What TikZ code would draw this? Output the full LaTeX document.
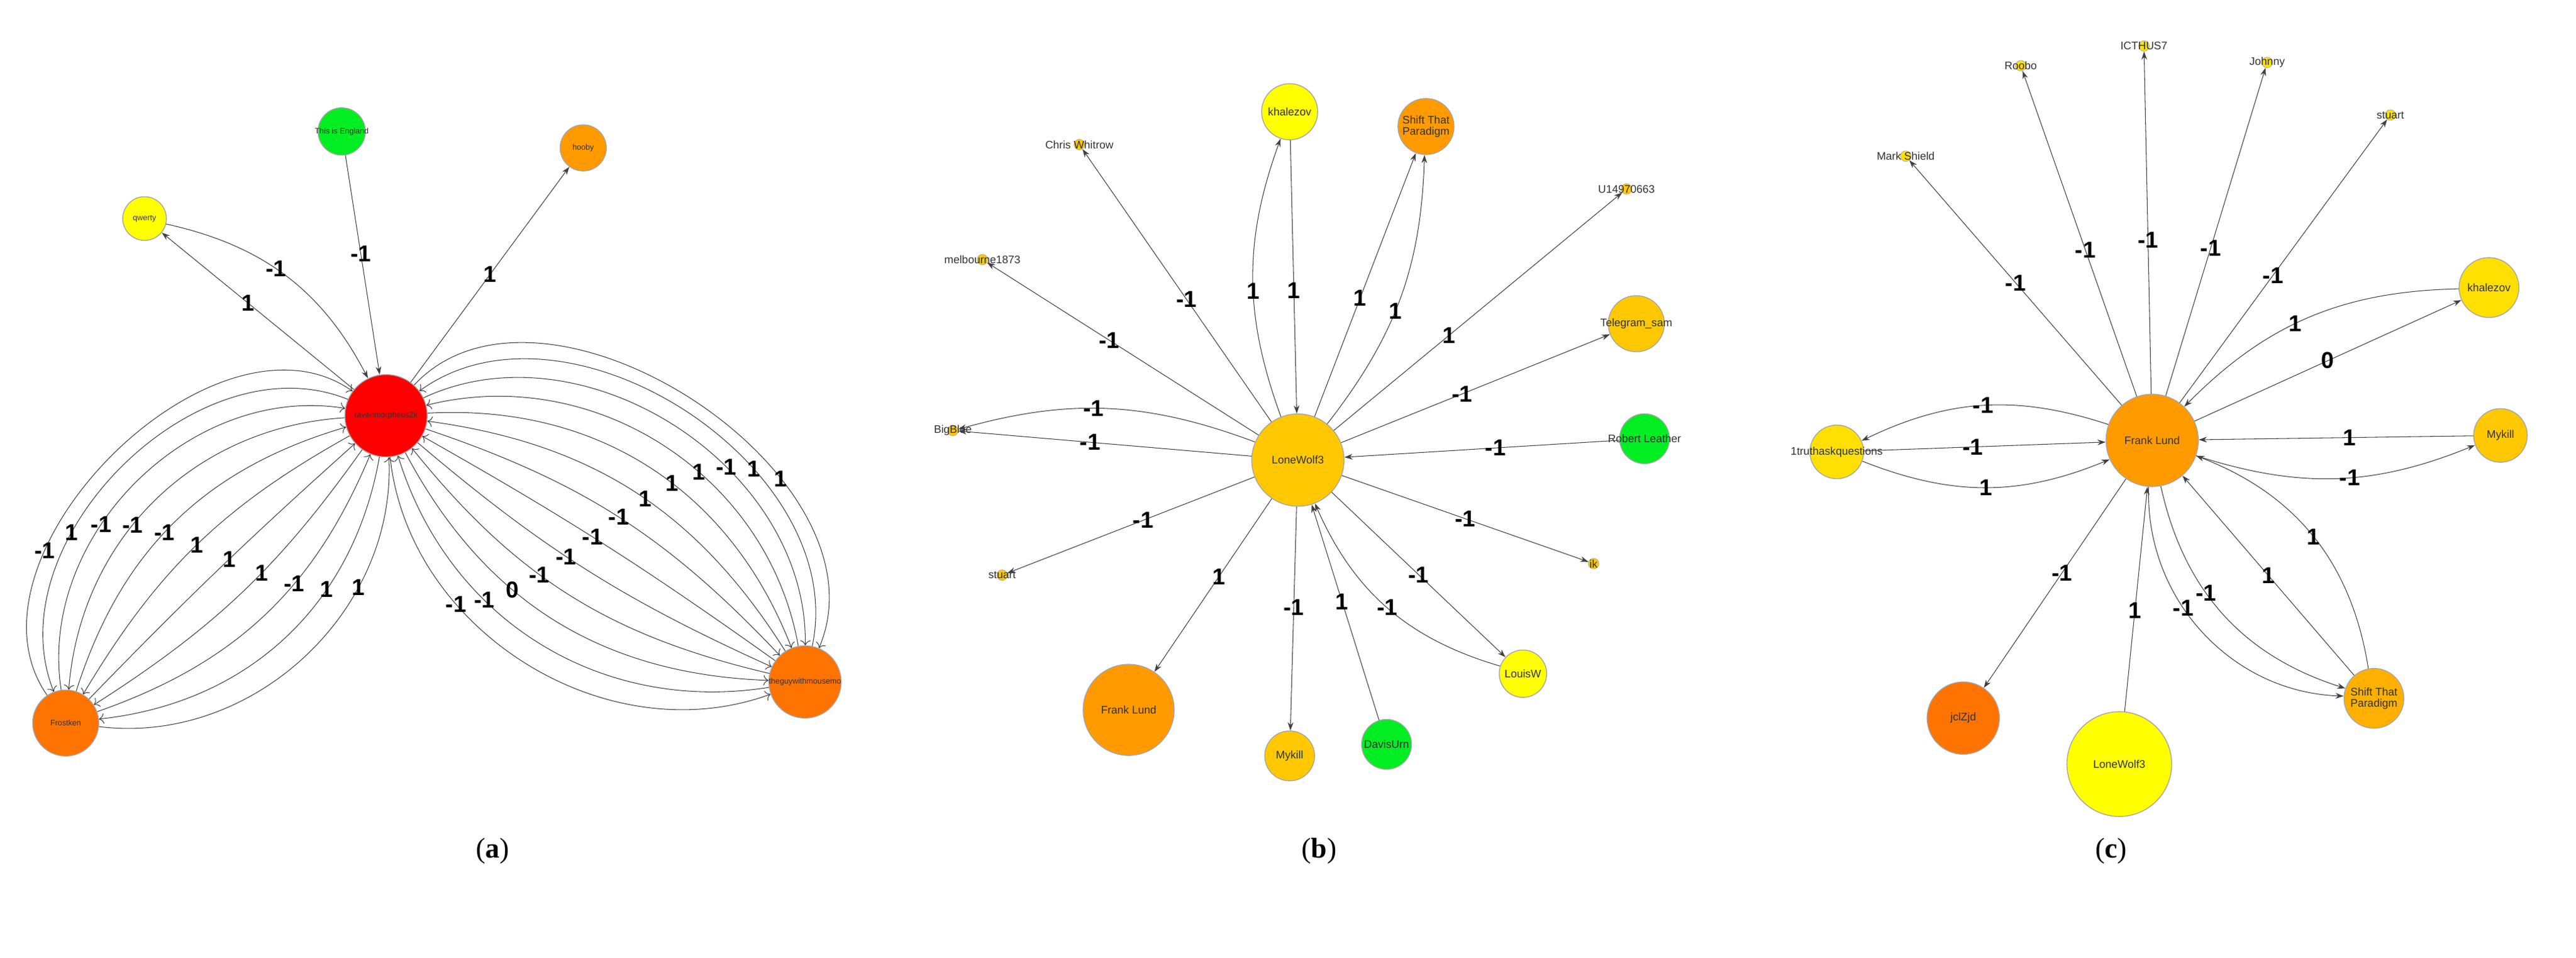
\documentclass[tikz,border=0pt]{standalone}
\usepackage{fontspec}
\setmainfont{Liberation Serif}
\newfontfamily\arialf{Liberation Sans}
\usetikzlibrary{arrows.meta}
\definecolor{cRed}{HTML}{FF0000}
\definecolor{cGreen}{HTML}{00EE22}
\definecolor{cDeep}{HTML}{FF7300}
\definecolor{cOrange}{HTML}{FF9A00}
\definecolor{cAmber}{HTML}{FFB000}
\definecolor{cGold}{HTML}{FFC800}
\definecolor{cSun}{HTML}{FFE000}
\definecolor{cYellow}{HTML}{FFFF00}
\tikzset{
	vx/.style = {shape=circle, draw=black!35, thin, inner sep=0pt},
	dot/.style = {shape=circle, draw=black!35, very thin, fill=cGold, inner sep=0pt, minimum size=1.7mm},
	lbl/.style = {font=\arialf\fontsize{5}{5}\selectfont, text=black!80, inner sep=0pt, align=center},
	lbs/.style = {font=\arialf\fontsize{3.6}{3.6}\selectfont, text=black!80, inner sep=0pt},
	el/.style = {font=\arialf\fontsize{10.5}{10.5}\bfseries\selectfont, inner sep=1pt},
	edge/.style = {draw=black!75, line width=0.3pt, -{Stealth[length=1.3mm,width=0.9mm]}}
}
\begin{document}
\begin{tikzpicture}[x=0.2635mm, y=-0.2635mm]
	\useasboundingbox (0,0) rectangle (1568,583);
	% (a)
	\node[vx, fill=cRed, minimum size=13.2mm, label={[lbs]center:ravenmorpheus2k}] (ra) at (235,253) {};
	\node[vx, fill=cGreen, minimum size=7.6mm, label={[lbs]center:This is England}] (en) at (208,80) {};
	\node[vx, fill=cOrange, minimum size=7.4mm, label={[lbs]center:hooby}] (ho) at (355,90) {};
	\node[vx, fill=cYellow, minimum size=7mm, label={[lbs]center:qwerty}] (qw) at (88,133) {};
	\node[vx, fill=cDeep, minimum size=10.6mm, label={[lbs]center:Frostken}] (fr) at (40,440) {};
	\node[vx, fill=cDeep, minimum size=11.6mm, label={[lbs]center:theguywithmousemo}] (tg) at (490,415) {};

	\draw[edge] (en) -- node[el, pos=.45] {-1} (ra);
	\draw[edge] (ra) -- node[el] {1} (ho);
	\draw[edge] (ra) -- node[el, pos=.55] {1} (qw);
	\draw[edge] (qw) to[bend left=25] node[el, pos=.45] {-1} (ra);
	\foreach \ang/\lab/\dir/\p in {80/-1/->/.30, 67/1/<-/.34, 54/-1/->/.38, 41/-1/<-/.42, 28/-1/->/.46, 15/1/<-/.50, 2/1/->/.54, -11/1/<-/.58, -24/-1/->/.62, -37/1/<-/.66, -50/1/->/.70}
		\draw[edge, \dir] (fr) to[bend left=\ang] node[el, pos=\p] {\lab} (ra);
	\foreach \ang/\lab/\dir/\p in {80/1/->/.68, 69/1/<-/.65, 58/-1/->/.62, 47/1/<-/.59, 36/1/->/.56, 25/1/<-/.53, 14/-1/->/.50, 3/-1/<-/.47, -8/-1/->/.44, -19/-1/<-/.41, -30/0/->/.38, -41/-1/<-/.35, -52/-1/->/.32}
		\draw[edge, \dir] (ra) to[bend left=\ang] node[el, pos=\p] {\lab} (tg);
	\node[font=\fontsize{13}{13}\selectfont] (capa) at (300,518) {(\textbf{a})};

	% (b)
	\node[vx, fill=cGold, minimum size=14.8mm, label={[lbl]center:LoneWolf3}] (lw) at (790,280) {};
	\node[vx, fill=cYellow, minimum size=9mm, label={[lbl]center:khalezov}] (kh) at (785,68) {};
	\node[vx, fill=cOrange, minimum size=9mm, label={[lbl]center:Shift That\\Paradigm}] (sp) at (868,77) {};
	\node[dot, label={[lbl]center:Chris Whitrow}] (cw) at (657,88) {};
	\node[dot, label={[lbl]center:U14970663}] (uu) at (990,115) {};
	\node[dot, label={[lbl]center:melbourne1873}] (me) at (598,158) {};
	\node[vx, fill=cGold, minimum size=9mm, label={[lbl]center:Telegram\_sam}] (ts) at (996,197) {};
	\node[dot, label={[lbl]center:BigBlue}] (bb) at (580,262) {};
	\node[vx, fill=cGreen, minimum size=8mm, label={[lbl]center:Robert Leather}] (rl) at (1001,267) {};
	\node[dot, label={[lbl]center:stuart}] (sb) at (610,350) {};
	\node[dot, label={[lbl]center:ik}] (ik) at (970,343) {};
	\node[vx, fill=cOrange, minimum size=14.6mm, label={[lbl]center:Frank Lund}] (fb) at (687,432) {};
	\node[vx, fill=cGold, minimum size=8mm, label={[lbl]center:Mykill}] (mb) at (785,460) {};
	\node[vx, fill=cGreen, minimum size=8mm, label={[lbl]center:DavisUrn}] (du) at (844,453) {};
	\node[vx, fill=cYellow, minimum size=7.6mm, label={[lbl]center:LouisW}] (lo) at (927,410) {};

	\draw[edge] (lw) to[bend left=20] node[el, pos=.45] {1} (kh);
	\draw[edge] (kh) -- node[el, pos=.55] {1} (lw);
	\draw[edge] (lw) -- node[el, pos=.45] {-1} (cw);
	\draw[edge] (lw) -- node[el, pos=.55] {-1} (me);
	\draw[edge] (lw) to[bend right=18] node[el, pos=.55] {-1} (bb);
	\draw[edge] (lw) -- node[el, pos=.55] {-1} (bb);
	\draw[edge] (lw) -- node[el, pos=.45] {1} (sp);
	\draw[edge] (lw) to[bend right=18] node[el, pos=.45] {1} (sp);
	\draw[edge] (lw) -- node[el, pos=.4] {1} (uu);
	\draw[edge] (lw) -- node[el, pos=.45] {-1} (ts);
	\draw[edge] (rl) -- node[el, pos=.45] {-1} (lw);
	\draw[edge] (lw) -- node[el, pos=.5] {-1} (ik);
	\draw[edge] (lw) -- node[el, pos=.5] {-1} (lo);
	\draw[edge] (lo) to[bend left=25] node[el, pos=.5] {-1} (lw);
	\draw[edge] (du) -- node[el, pos=.55] {1} (lw);
	\draw[edge] (lw) -- node[el, pos=.45] {-1} (mb);
	\draw[edge] (lw) -- node[el, pos=.45] {1} (fb);
	\draw[edge] (lw) -- node[el, pos=.45] {-1} (sb);
	\node[font=\fontsize{13}{13}\selectfont] (capb) at (803,518) {(\textbf{b})};

	% (c)
	\node[vx, fill=cOrange, minimum size=14.8mm, label={[lbl]center:Frank Lund}] (fl) at (1310,268) {};
	\node[dot, fill=cSun, label={[lbl]center:Mark Shield}] (ms) at (1160,95) {};
	\node[dot, fill=cSun, label={[lbl]center:Roobo}] (ro) at (1230,40) {};
	\node[dot, fill=cSun, label={[lbl]center:ICTHUS7}] (ic) at (1305,28) {};
	\node[dot, fill=cSun, label={[lbl]center:Johnny}] (jo) at (1380,38) {};
	\node[dot, fill=cSun, label={[lbl]center:stuart}] (sc) at (1455,70) {};
	\node[vx, fill=cSun, minimum size=9.6mm, label={[lbl]center:khalezov}] (kc) at (1515,175) {};
	\node[vx, fill=cGold, minimum size=8.6mm, label={[lbl]center:Mykill}] (mc) at (1522,265) {};
	\node[vx, fill=cSun, minimum size=8.6mm, label={[lbl]center:1truthaskquestions}] (tq) at (1118,275) {};
	\node[vx, fill=cDeep, minimum size=11.6mm, label={[lbl]center:jclZjd}] (jc) at (1195,437) {};
	\node[vx, fill=cYellow, minimum size=16.8mm, label={[lbl]center:LoneWolf3}] (lc) at (1290,465) {};
	\node[vx, fill=cAmber, minimum size=9.6mm, label={[lbl]center:Shift That\\Paradigm}] (sc2) at (1445,425) {};

	\draw[edge] (fl) -- node[el, pos=.5] {-1} (ms);
	\draw[edge] (fl) -- node[el, pos=.45] {-1} (ro);
	\draw[edge] (fl) -- node[el, pos=.45] {-1} (ic);
	\draw[edge] (fl) -- node[el, pos=.45] {-1} (jo);
	\draw[edge] (fl) -- node[el, pos=.45] {-1} (sc);
	\draw[edge] (kc) to[bend right=22] node[el, pos=.55] {1} (fl);
	\draw[edge] (fl) -- node[el, pos=.5] {0} (kc);
	\draw[edge] (mc) -- node[el, pos=.45] {1} (fl);
	\draw[edge] (fl) to[bend right=20] node[el, pos=.55] {-1} (mc);
	\draw[edge] (fl) to[bend right=22] node[el, pos=.5] {-1} (tq);
	\draw[edge] (tq) -- node[el, pos=.45] {-1} (fl);
	\draw[edge] (tq) to[bend right=22] node[el, pos=.5] {1} (fl);
	\draw[edge] (fl) -- node[el, pos=.45] {-1} (jc);
	\draw[edge] (lc) -- node[el, pos=.45] {1} (fl);
	\draw[edge] (fl) to[bend right=30] node[el, pos=.4] {-1} (sc2);
	\draw[edge] (fl) to[bend right=45] node[el, pos=.4] {-1} (sc2);
	\draw[edge] (sc2) -- node[el, pos=.5] {1} (fl);
	\draw[edge] (sc2) to[bend right=30] node[el, pos=.5] {1} (fl);
	\node[font=\fontsize{13}{13}\selectfont] (capc) at (1285,518) {(\textbf{c})};
\end{tikzpicture}
\end{document}
